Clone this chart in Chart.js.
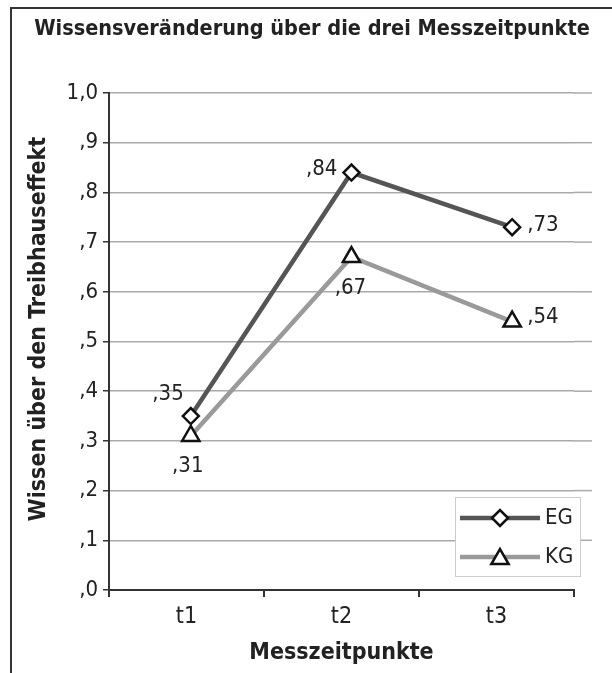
<!DOCTYPE html>
<html><head><meta charset="utf-8">
<script src="https://cdn.jsdelivr.net/npm/chart.js@4.4.1/dist/chart.umd.min.js"></script>
<style>html,body{margin:0;padding:0;background:#fff}#wrap{width:612px;height:673px;position:relative}canvas{display:block}</style>
</head><body><div id="wrap"><canvas id="c" width="612" height="673"></canvas></div>
<script>
// ---- data ----
const categories = ['t1', 't2', 't3'];
const seriesNames = ['EG', 'KG'];
const egValues = [0.35, 0.84, 0.73];
const kgValues = [0.31, 0.67, 0.54];
const yTickValues = [0, 0.1, 0.2, 0.3, 0.4, 0.5, 0.6, 0.7, 0.8, 0.9, 1.0];
const yTickLabels = [',0', ',1', ',2', ',3', ',4', ',5', ',6', ',7', ',8', ',9', '1,0'];
const chartTitle = 'Wissensveränderung über die drei Messzeitpunkte';
const yTitle = 'Wissen über den Treibhauseffekt';
const xTitle = 'Messzeitpunkte';

// ---- styles ----
const FONT = "'DejaVu Sans Condensed', 'Liberation Sans Narrow', 'DejaVu Sans', sans-serif";
const TXT = '#222';
const egColor = '#555555';
const kgColor = '#9a9a9a';

function fmtVal(v) { return ',' + Math.round(v * 100); }

const labelPlacement = [
  [{dx: -7, dy: -22, align: 'right'}, {dx: -14, dy: -3, align: 'right'}, {dx: 15, dy: -2, align: 'left'}],
  [{dx: -3, dy: 30, align: 'center'}, {dx: -1, dy: 31, align: 'center'}, {dx: 15, dy: -4, align: 'left'}]
];

const framePlugin = {
  id: 'frame',
  beforeDraw(chart) {
    const ctx = chart.ctx;
    ctx.save();
    ctx.fillStyle = '#fff';
    ctx.fillRect(0, 0, chart.width, chart.height);
    ctx.strokeStyle = '#333';
    ctx.lineWidth = 2;
    ctx.beginPath();
    ctx.moveTo(11, chart.height);
    ctx.lineTo(11, 8);
    ctx.lineTo(chart.width, 8);
    ctx.stroke();
    ctx.fillStyle = TXT;
    ctx.textAlign = 'center';
    ctx.textBaseline = 'middle';
    ctx.font = 'bold 21.5px ' + FONT;
    ctx.fillText(chartTitle, 312, 29);
    // y axis title
    ctx.translate(39, 329);
    ctx.rotate(-Math.PI / 2);
    ctx.font = 'bold 23px ' + FONT;
    ctx.fillText(yTitle, 0, 0);
    ctx.restore();
  },
  beforeDatasetsDraw(chart) {
    // gridlines continue a little past the end of the x axis, as in the reference
    const ctx = chart.ctx, ys = chart.scales.y, ca = chart.chartArea;
    ctx.save();
    ctx.strokeStyle = '#aaaaaa';
    ctx.lineWidth = 1.5;
    yTickValues.forEach(v => {
      if (v === 0) return;
      const y = ys.getPixelForValue(v);
      ctx.beginPath();
      ctx.moveTo(ca.right, y);
      ctx.lineTo(ca.right + 18, y);
      ctx.stroke();
    });
    ctx.restore();
  },
  afterDatasetsDraw(chart) {
    const ctx = chart.ctx;
    ctx.save();
    ctx.font = '22px ' + FONT;
    ctx.fillStyle = TXT;
    ctx.textBaseline = 'middle';
    chart.data.datasets.forEach((ds, di) => {
      const meta = chart.getDatasetMeta(di);
      meta.data.forEach((pt, i) => {
        const p = labelPlacement[di][i];
        ctx.textAlign = p.align;
        ctx.fillText(fmtVal(ds.data[i].y), pt.x + p.dx, pt.y + p.dy);
      });
    });
    // legend
    const ca = chart.chartArea;
    const bx = ca.right - 119, by = ca.bottom - 93, bw = 125, bh = 79;
    ctx.fillStyle = '#fff';
    ctx.fillRect(bx, by, bw, bh);
    ctx.strokeStyle = '#cccccc';
    ctx.lineWidth = 1;
    ctx.strokeRect(bx + 0.5, by + 0.5, bw, bh);
    chart.data.datasets.forEach((ds, di) => {
      const cy = by + 21 + di * 39;
      ctx.strokeStyle = ds.borderColor;
      ctx.lineWidth = 4.5;
      ctx.beginPath();
      ctx.moveTo(bx + 5, cy);
      ctx.lineTo(bx + 85, cy);
      ctx.stroke();
      ctx.fillStyle = '#fff';
      ctx.strokeStyle = '#111';
      ctx.lineWidth = ds.pointBorderWidth;
      Chart.helpers.drawPoint(ctx, {
        pointStyle: ds.pointStyle, radius: ds.pointRadius, borderWidth: ds.pointBorderWidth, rotation: 0
      }, bx + 45, cy + (ds.pointStyle === 'triangle' ? 2 : 0));
      ctx.fillStyle = TXT;
      ctx.font = '22px ' + FONT;
      ctx.textAlign = 'left';
      ctx.textBaseline = 'middle';
      ctx.fillText(seriesNames[di], bx + 90, cy);
    });
    ctx.restore();
  }
};

const toXY = arr => arr.map((v, i) => ({x: i + 1, y: v}));

const chart = new Chart(document.getElementById('c'), {
  type: 'line',
  data: {
    labels: categories,
    datasets: [
      {
        label: seriesNames[0], data: toXY(egValues), xAxisID: 'xp',
        borderColor: egColor, borderWidth: 4.5, pointStyle: 'rectRot', pointRadius: 8,
        pointBackgroundColor: '#fff', pointBorderColor: '#111', pointBorderWidth: 2.5, tension: 0
      },
      {
        label: seriesNames[1], data: toXY(kgValues), xAxisID: 'xp',
        borderColor: kgColor, borderWidth: 4.5, pointStyle: 'triangle', pointRadius: 10,
        pointBackgroundColor: '#fff', pointBorderColor: '#111', pointBorderWidth: 2.5, tension: 0
      }
    ]
  },
  options: {
    responsive: false,
    animation: false,
    layout: {padding: {left: 22, right: 38, top: 93, bottom: 0}},
    plugins: {legend: {display: false}, title: {display: false}, tooltip: {enabled: false}},
    scales: {
      x: {
        type: 'category',
        offset: true,
        grid: {offset: true, drawOnChartArea: false, drawTicks: true, tickLength: 7, tickColor: '#333', lineWidth: 2},
        border: {color: '#333', width: 2},
        ticks: {font: {family: FONT, size: 23}, color: TXT, padding: 6},
        title: {display: true, text: xTitle, font: {family: FONT, size: 23, weight: 'bold'}, color: TXT, padding: {top: 4, bottom: 6}},
        afterFit(s) { s.height = 83; }
      },
      xp: {
        type: 'linear', display: false, min: 0.491, max: 3.385
      },
      y: {
        type: 'linear', min: 0, max: 1,
        afterBuildTicks(s) { s.ticks = yTickValues.map(v => ({value: v})); },
        grid: {color: '#aaaaaa', lineWidth: 1.5, tickLength: 6, tickColor: '#333'},
        border: {color: '#333', width: 2},
        ticks: {font: {family: FONT, size: 22}, color: TXT, padding: 5,
          callback: (v, i) => yTickLabels[i]},
        title: {display: false},
        afterFit(s) { s.width = 87; }
      }
    }
  },
  plugins: [framePlugin]
});
</script></body></html>
